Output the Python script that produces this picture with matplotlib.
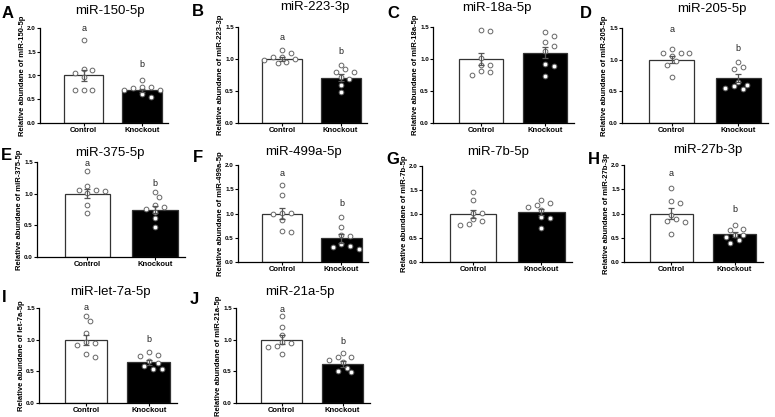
import numpy as np
import matplotlib.pyplot as plt

plt.rcParams['font.family'] = ['Liberation Sans', 'DejaVu Sans']

W, H, DPI = 775, 417, 100

GROUPS = ['Control', 'Knockout']
LETTERS = list('ABCDEFGHIJ')
TITLES = ['miR-150-5p', 'miR-223-3p', 'miR-18a-5p', 'miR-205-5p', 'miR-375-5p',
          'miR-499a-5p', 'miR-7b-5p', 'miR-27b-3p', 'miR-let-7a-5p', 'miR-21a-5p']
YLABELS = ['Relative abundane of miR-150-5p', 'Relative abundane of miR-223-3p',
           'Relative abundane of miR-18a-5p', 'Relative abundane of miR-205-5p',
           'Relative abundane of miR-375-5p', 'Relative abundane of miR-499a-5p',
           'Relative abundane of miR-7b-5p', 'Relative abundane of miR-27b-3p',
           'Relative abundane of let-7a-5p', 'Relative abundane of miR-21a-5p']
YMAX = [2.0, 1.5, 1.5, 1.5, 1.5, 2.0, 2.0, 2.0, 1.5, 1.5]

# bar heights (mean) and SEM
CTRL_MEAN = [1.00, 1.00, 1.00, 1.00, 1.00, 1.00, 1.00, 1.00, 1.00, 1.00]
CTRL_SEM = [0.12, 0.025, 0.10, 0.05, 0.07, 0.12, 0.09, 0.11, 0.08, 0.07]
KO_MEAN = [0.69, 0.71, 1.10, 0.71, 0.75, 0.49, 1.04, 0.57, 0.64, 0.62]
KO_SEM = [0.03, 0.05, 0.09, 0.06, 0.06, 0.09, 0.07, 0.05, 0.04, 0.05]

# individual samples
CTRL_PTS = [
    [1.75, 1.06, 1.13, 1.11, 0.96, 0.70, 0.70, 0.70],
    [0.96, 1.14, 1.00, 1.09, 0.99, 1.03, 1.03, 0.93],
    [1.44, 1.46, 1.01, 0.91, 0.91, 0.80, 0.81, 0.75],
    [1.11, 1.10, 1.17, 1.11, 1.05, 0.98, 0.92, 0.73],
    [1.36, 1.12, 1.06, 1.06, 1.01, 0.82, 0.69, 1.05],
    [1.59, 1.38, 1.02, 1.01, 0.87, 0.61, 0.63, 0.99],
    [1.45, 1.30, 1.03, 1.03, 0.90, 0.78, 0.85, 0.79],
    [1.52, 1.26, 1.22, 0.97, 0.88, 0.85, 0.83, 0.57],
    [1.37, 1.30, 1.10, 0.97, 0.92, 0.95, 0.78, 0.72],
    [1.37, 1.20, 1.07, 0.97, 0.94, 0.90, 0.89, 0.77],
]
KO_PTS = [
    [0.90, 0.75, 0.76, 0.74, 0.70, 0.69, 0.62, 0.54],
    [0.91, 0.84, 0.80, 0.80, 0.72, 0.68, 0.59, 0.48],
    [1.42, 1.36, 1.26, 1.21, 1.12, 0.92, 0.89, 0.73],
    [0.97, 0.89, 0.85, 0.65, 0.60, 0.58, 0.55, 0.53],
    [1.03, 0.94, 0.82, 0.79, 0.76, 0.71, 0.61, 0.48],
    [0.92, 0.73, 0.53, 0.55, 0.38, 0.34, 0.31, 0.27],
    [1.30, 1.22, 1.18, 1.15, 1.08, 0.94, 0.91, 0.70],
    [0.76, 0.69, 0.66, 0.55, 0.55, 0.52, 0.45, 0.40],
    [0.76, 0.80, 0.74, 0.66, 0.63, 0.59, 0.54, 0.53],
    [0.79, 0.73, 0.72, 0.68, 0.64, 0.56, 0.51, 0.49],
]

# significance letters and their heights (None = no letters)
SIG = [('a', 'b'), ('a', 'b'), None, ('a', 'b'), ('a', 'b'),
       ('a', 'b'), None, ('a', 'b'), ('a', 'b'), ('a', 'b')]
SIG_Y = [(1.98, 1.24), (1.34, 1.12), None, (1.48, 1.17), (1.47, 1.16),
         (1.83, 1.21), None, (1.83, 1.08), (1.50, 1.01), (1.48, 0.97)]

# layout in pixels: axes (left, top, right, bottom), title centre, panel letter
AX_BOX = [(40, 28, 168, 123), (238, 27, 367, 123), (433, 27, 574, 123), (622, 28, 768, 123),
          (37, 162, 185, 257), (238, 165, 368, 262), (422, 166, 572, 262), (624, 165, 763, 262),
          (39, 308, 177, 403), (236, 308, 370, 403)]
TITLE_XY = [(110, 11), (315, 7), (497, 8), (712, 9),
            (110, 153), (303, 152), (498, 152), (708, 150),
            (110, 292), (300, 292)]
LETTER_XY = [(2, 13), (192, 12), (387, 13), (580, 13),
             (1, 156), (193, 157), (386, 160), (588, 160),
             (2, 298), (190, 299)]

XLIM = (0.25, 2.45)
BAR_W = 0.68
MS = 3.4  # marker size in points


def swarm(values, x0, ax):
    """Simple beeswarm: place each point as close to x0 as possible without overlap."""
    x_px = ax.bbox.width / (XLIM[1] - XLIM[0])
    y_px = ax.bbox.height / (ax.get_ylim()[1] - ax.get_ylim()[0])
    diam = MS * DPI / 72 * 1.25
    order = np.argsort(values)[::-1]
    placed = []
    xs = np.zeros(len(values))
    for i in order:
        y = values[i] * y_px
        for k in range(0, 20):
            step = (k + 1) // 2 * (1 if k % 2 else -1) if k else 0
            cx = step * diam * 0.75
            if all((cx - px) ** 2 + (y - py) ** 2 >= diam ** 2 for px, py in placed):
                break
        placed.append((cx, y))
        xs[i] = x0 + cx / x_px
    return xs


fig = plt.figure(figsize=(W / DPI, H / DPI), dpi=DPI)

for i in range(len(TITLES)):
    l, t, r, b = AX_BOX[i]
    ax = fig.add_axes([l / W, 1 - b / H, (r - l) / W, (b - t) / H])
    ymax = YMAX[i]
    ax.set_xlim(*XLIM)
    ax.set_ylim(0, ymax)

    means = [CTRL_MEAN[i], KO_MEAN[i]]
    sems = [CTRL_SEM[i], KO_SEM[i]]
    ax.bar([1, 2], means, width=BAR_W, color=['white', 'black'],
           edgecolor='#333333', linewidth=0.9, zorder=2)

    for g, pts in enumerate([CTRL_PTS[i], KO_PTS[i]]):
        vals = np.array(pts)
        xs = swarm(vals, g + 1, ax)
        ax.plot(xs, vals, 'o', ms=MS, mfc='white', mec='#666666', mew=0.7, zorder=3)
        ax.errorbar(g + 1, means[g], yerr=sems[g], fmt='none', ecolor='#555555',
                    elinewidth=0.9, capsize=2.2, capthick=0.9, zorder=4)

    if SIG[i] is not None:
        for g in range(2):
            ax.text(g + 1, SIG_Y[i][g], SIG[i][g], ha='center', va='center',
                    fontsize=6.5, color='#222222')

    ax.spines['top'].set_visible(False)
    ax.spines['right'].set_visible(False)
    ax.spines['left'].set_linewidth(0.9)
    ax.spines['bottom'].set_linewidth(0.9)
    ticks = np.arange(0, ymax + 0.01, 0.5)
    ax.set_yticks(ticks)
    ax.set_yticklabels([f'{v:.1f}' for v in ticks], fontsize=4.5, fontweight='bold')
    ax.set_xticks([1, 2])
    ax.set_xticklabels(GROUPS, fontsize=5.5, fontweight='bold')
    ax.tick_params(axis='both', length=2.2, width=0.8, pad=0.8)
    ax.set_ylabel(YLABELS[i], fontsize=5.5, fontweight='bold', labelpad=0.5)

    fig.text(TITLE_XY[i][0] / W, 1 - TITLE_XY[i][1] / H, TITLES[i],
             ha='center', va='center', fontsize=9.5)
    fig.text(LETTER_XY[i][0] / W, 1 - LETTER_XY[i][1] / H, LETTERS[i],
             ha='left', va='center', fontsize=12, fontweight='bold')

fig.savefig('out.png', dpi=DPI)
